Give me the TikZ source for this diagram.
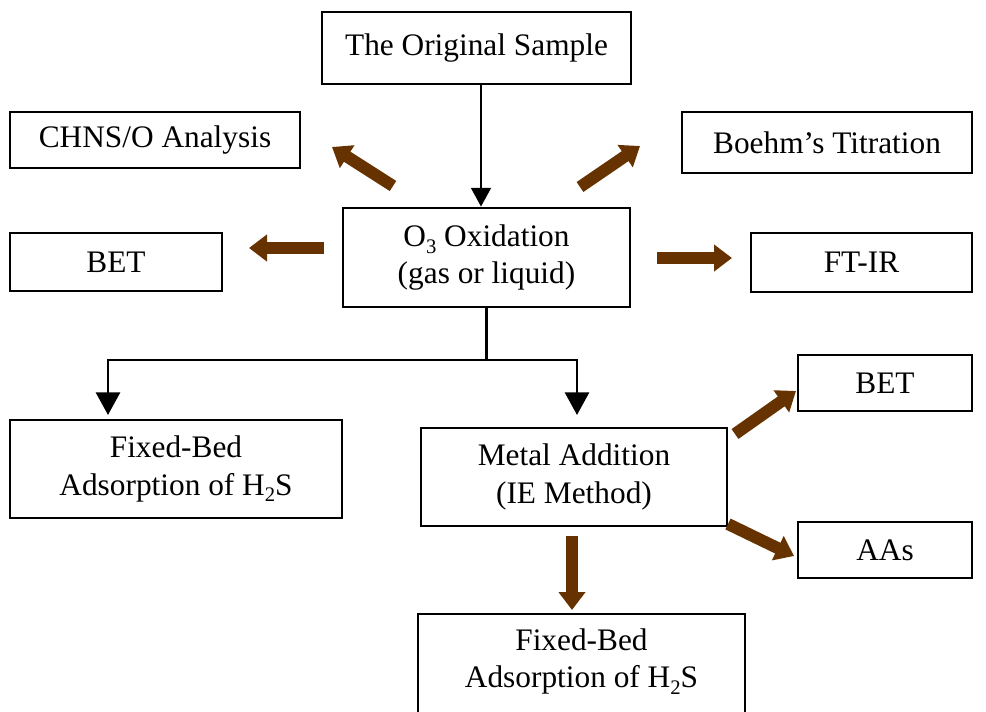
\documentclass[tikz,border=0pt]{standalone}
\usepackage{fontspec}
\setmainfont{Liberation Serif}
\usetikzlibrary{arrows.meta,calc}
\definecolor{brn}{RGB}{102,51,0}
\newcommand{\sbs}[1]{\raisebox{-0.22em}{\fontsize{15.5pt}{15pt}\selectfont #1}}
\begin{document}
\begin{tikzpicture}[x=0.75pt,y=-0.75pt,
  box/.style={draw, line width=2.2pt, inner sep=0pt, align=center,
    font=\fontsize{23.5pt}{28pt}\selectfont},
  txt/.style={inner sep=0pt, align=center, font=\fontsize{23.5pt}{28pt}\selectfont},
  fat/.style={draw=brn, line width=9pt, -{Triangle[width=19.5pt,length=13.5pt]}, color=brn},
  thinline/.style={line width=1.2pt, -{Triangle[width=15pt,length=14pt]}},
  blkline/.style={line width=2.2pt}]
\clip (0,0) rectangle (986,711);
\fill[white] (0,0) rectangle (986,711);

\node[box, minimum width=231.75pt, minimum height=54pt] (orig) at (476.5,48) {The Original Sample};
\node[box, minimum width=217.5pt, minimum height=42pt] (chns) at (155,140) {CHNS/O Analysis};
\node[box, minimum width=217.5pt, minimum height=45.75pt] (boehm) at (827,142.5) {Boehm’s Titration};
\node[box, minimum width=159pt, minimum height=43.5pt] (betL) at (116,262) {BET};
\node[box, minimum width=215.25pt, minimum height=74.25pt] (oxid) at (486.5,257.5) {O\sbs{3} Oxidation\\(gas or liquid)};
\node[box, minimum width=165.75pt, minimum height=44.25pt] (ftir) at (861.5,262.5) {FT-IR};
\node[box, minimum width=249pt, minimum height=73.5pt] (fbL) at (176,469) {Fixed-Bed\\Adsorption of H\sbs{2}S};
\node[box, minimum width=229.5pt, minimum height=73.5pt] (metal) at (574,477) {Metal Addition\\(IE Method)};
\node[box, minimum width=130.5pt, minimum height=42pt] (betR) at (885,383) {BET};
\node[box, minimum width=130.5pt, minimum height=42pt] (aas) at (885,550) {AAs};
\node[box, minimum width=245.25pt, minimum height=78pt] (fbB) at (581.5,666) {};
\node[txt] (fbBt) at (581.5,661.5) {Fixed-Bed\\Adsorption of H\sbs{2}S};

% black connectors
\draw[thinline] ([xshift=3.375pt]orig.south) -- ([xshift=3.375pt]orig.south |- oxid.north);
\coordinate (jy) at (0,360);
\coordinate (j) at (oxid.south |- jy);
\coordinate (jL) at (108,360);
\coordinate (jR) at (577,360);
\coordinate (tL) at (108,415);
\coordinate (tR) at (577,415);
\draw[blkline] (oxid.south) -- (j);
\draw[blkline, {Triangle[width=18pt,length=17pt]}-{Triangle[width=18pt,length=17pt]}]
  (tL) -- (jL) -- (jR) -- (tR);

% brown arrows
\coordinate (a1s) at (393,186); \coordinate (a1e) at (332,147);
\coordinate (a2s) at (580,187); \coordinate (a2e) at (640,146);
\coordinate (a3s) at (324,248); \coordinate (a3e) at (249,248);
\coordinate (a4s) at (657,258); \coordinate (a4e) at (732,258);
\coordinate (a5s) at (735,434); \coordinate (a5e) at (796,391);
\coordinate (a6s) at (728,524); \coordinate (a6e) at (794,556);
\coordinate (a7s) at (572,536); \coordinate (a7e) at (572,610);
\foreach \i in {1,...,7} {\draw[fat] (a\i s) -- (a\i e);}
\end{tikzpicture}
\end{document}
